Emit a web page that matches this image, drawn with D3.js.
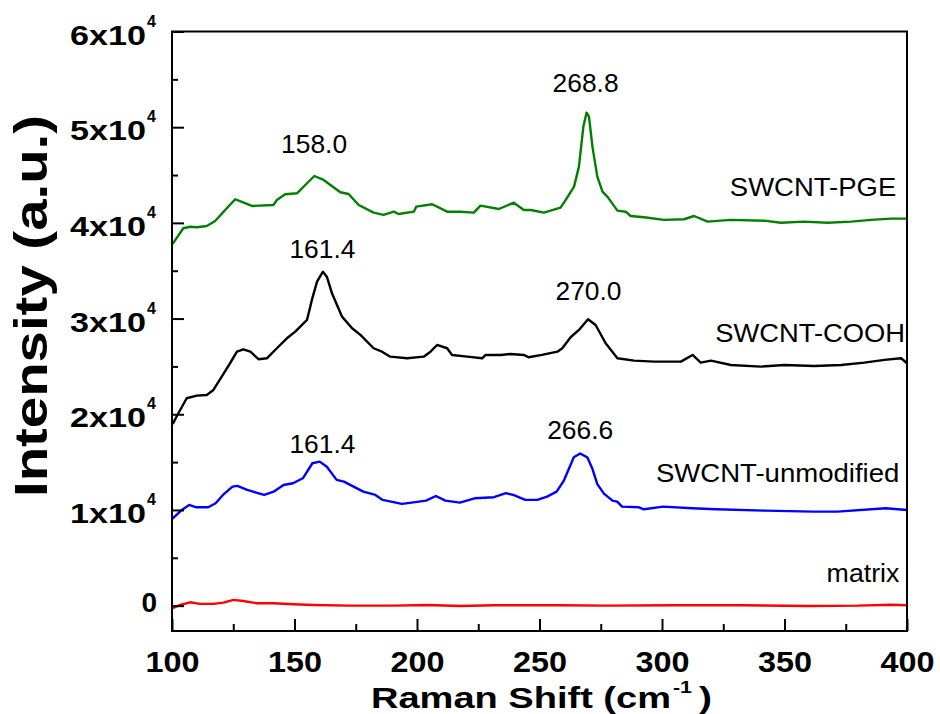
<!DOCTYPE html>
<html>
<head>
<meta charset="utf-8">
<script src="https://cdn.jsdelivr.net/npm/d3@7"></script>
<style>
  body { margin: 0; background: #fff; }
  svg { display: block; font-family: "Liberation Sans", Arial, sans-serif; }
</style>
</head>
<body>
<svg id="chart" width="940" height="714"></svg>
<script>
// Raman spectra (x in cm-1, intensity in a.u.)
const pgeShift = [100.3, 104.6, 107.4, 110.1, 114.2, 117.6, 121.7, 125.8, 128.5, 132.6, 141.4, 142.8, 146.2, 151.0, 154.4, 158.1, 161.9, 168.7, 172.1, 176.2, 182.3, 186.4, 190.5, 192.5, 198.7, 199.7, 206.2, 212.3, 217.7, 223.2, 225.9, 233.4, 239.5, 243.6, 246.4, 251.8, 258.6, 260.7, 264.1, 266.1, 267.9, 269.2, 270.2, 271.6, 273.6, 275.7, 277.7, 281.8, 285.2, 287.2, 292.7, 300.8, 309.0, 313.1, 318.6, 328.1, 341.7, 348.5, 358.1, 367.6, 377.2, 385.3, 393.5, 400]
const pgeIntensity = [37800, 39440, 39600, 39540, 39680, 40200, 41350, 42470, 42190, 41770, 41870, 42390, 42990, 43090, 43960, 44900, 44490, 43200, 43020, 41870, 41070, 40830, 41170, 40930, 41170, 41700, 41950, 41170, 41170, 41070, 41800, 41450, 42110, 41350, 41350, 41070, 41590, 42400, 43790, 45880, 50060, 51520, 51100, 47970, 44830, 43260, 42740, 41280, 41170, 40720, 40590, 40310, 40380, 40720, 40130, 40310, 40230, 40020, 40130, 40020, 40130, 40310, 40440, 40440]

const coohShift = [100.3, 102.6, 106, 110.1, 114.2, 116.9, 120.3, 123.7, 126.5, 129.1, 132, 135.3, 138.7, 142.8, 146.9, 150.3, 155.1, 157.1, 159.2, 161.6, 163.2, 165.3, 169.4, 173.5, 176.9, 182.3, 185.7, 189.1, 196, 202.7, 205.5, 208.2, 212.3, 214.3, 220.5, 226.6, 228, 234.1, 238.2, 243.6, 245.5, 251, 257.3, 259.3, 262.7, 266.1, 269.8, 272.9, 277, 281.8, 288.6, 296.8, 307.7, 312.5, 315.8, 320, 328.1, 340.4, 349.9, 362.2, 373.1, 382.6, 390.8, 397.6, 400]
const coohIntensity = [18990, 20100, 21670, 21950, 22020, 22540, 23930, 25330, 26540, 26790, 26540, 25750, 25850, 26900, 27940, 28630, 29860, 31950, 33860, 34900, 34380, 32640, 30200, 28990, 28290, 26900, 26540, 26020, 25850, 26020, 26540, 27240, 26900, 26200, 26020, 25850, 26200, 26200, 26300, 26200, 25960, 26200, 26540, 26900, 28050, 28810, 29930, 29330, 27420, 25850, 25600, 25500, 25500, 26200, 25400, 25600, 25150, 24980, 25150, 25050, 25150, 25400, 25680, 25850, 25330]

const unmodShift = [100, 104, 107, 109.9, 114.8, 117.8, 120.8, 124.7, 126.7, 130.7, 137.6, 141.5, 145.5, 149.4, 153.4, 157.3, 160.3, 163.2, 167.2, 170.2, 174.1, 178.1, 183, 186, 193.8, 197.8, 203.7, 207.7, 211.6, 217.5, 223.5, 231.4, 236.3, 239.3, 244.2, 249.1, 253.1, 257, 260, 262, 264, 266.6, 269.5, 271.6, 273.6, 276.3, 279.8, 281.7, 283.7, 290.6, 292.6, 300.5, 312.3, 322.2, 341.9, 361.7, 371.6, 391.3, 400]
const unmodIntensity = [9030, 10000, 10520, 10280, 10280, 10700, 11570, 12440, 12510, 12090, 11570, 11910, 12610, 12790, 13310, 14880, 15050, 14520, 13140, 12960, 12440, 11910, 11570, 11050, 10630, 10760, 10970, 11460, 10970, 10760, 11220, 11330, 11750, 11570, 11050, 11050, 11390, 11910, 13100, 14300, 15500, 15900, 15500, 14300, 12700, 11700, 10970, 10870, 10350, 10280, 10070, 10350, 10180, 10070, 9930, 9820, 9820, 10180, 10000]

const matrixShift = [100.3, 103.3, 107.4, 111.4, 116.9, 121, 125.1, 129.1, 134.6, 141.4, 149.6, 157.8, 172.8, 190.5, 204.1, 217.7, 231.4, 245, 257.3, 277.7, 305, 332.2, 359.5, 379.9, 393.5, 400]
const matrixIntensity = [-270, 70, 350, 180, 180, 310, 600, 490, 250, 250, 150, 70, 0, 0, 70, -30, 40, 40, 40, 0, 40, 40, -30, 0, 100, 40]

const xMajorTicks = [100, 150, 200, 250, 300, 350, 400]
const xMinorTicks = [125, 175, 225, 275, 325, 375]
const yMajorTicks = [0, 10000, 20000, 30000, 40000, 50000, 60000]
const yMinorTicks = [5000, 15000, 25000, 35000, 45000, 55000]
const yTickMantissa = ['0', '1', '2', '3', '4', '5', '6']

// peak labels: shift they sit over, and intensity level of the text baseline
const peakLabels = ['268.8', '158.0', '161.4', '270.0', '161.4', '266.6']
const peakLabelShift = [268.8, 158.0, 161.4, 270.0, 161.4, 266.6]
const peakLabelLevel = [53710, 47340, 36300, 31950, 15930, 17390]

// series names, right side: shift where the text starts / ends, baseline level
const seriesNames = ['SWCNT-PGE', 'SWCNT-COOH', 'SWCNT-unmodified', 'matrix']
const seriesNameStart = [327.7, 321.7, 297.5, 367.2]
const seriesNameEnd = [395.6, 399.2, 396.9, 396.9]
const seriesNameLevel = [42810, 27590, 12960, 2510]

const width = 940, height = 714
const marginLeft = 172, marginRight = 907, marginTop = 31.5, marginBottom = 631

const svg = d3.select('#chart')
const x = d3.scaleLinear([100, 400], [marginLeft, marginRight])
const y = d3.scaleLinear([-2650, 60000], [marginBottom, marginTop])

const series = [
    {xs: pgeShift, ys: pgeIntensity, color: '#008000'},
    {xs: coohShift, ys: coohIntensity, color: '#000000'},
    {xs: unmodShift, ys: unmodIntensity, color: '#0000ff'},
    {xs: matrixShift, ys: matrixIntensity, color: '#ff0000'},
]

const line = d3.line().x(d => x(d[0])).y(d => y(d[1]))

svg.append('g')
    .selectAll('path')
    .data(series)
    .join('path')
    .attr('fill', 'none')
    .attr('stroke', d => d.color)
    .attr('stroke-width', 2.4)
    .attr('stroke-linejoin', 'round')
    .attr('d', d => line(d.xs.map((v, i) => [v, d.ys[i]])))

// axes, ticks pointing inward
const xMajor = svg.append('g')
    .attr('transform', `translate(0, ${marginBottom})`)
    .call(d3.axisBottom(x).tickValues(xMajorTicks).tickSize(-12).tickPadding(20).tickFormat(d3.format('d')))
svg.append('g')
    .attr('transform', `translate(0, ${marginBottom})`)
    .call(d3.axisBottom(x).tickValues(xMinorTicks).tickSize(-7).tickFormat(''))
svg.append('g')
    .attr('transform', `translate(${marginLeft}, 0)`)
    .call(d3.axisLeft(y).tickValues(yMajorTicks).tickSize(-12).tickFormat(''))
svg.append('g')
    .attr('transform', `translate(${marginLeft}, 0)`)
    .call(d3.axisLeft(y).tickValues(yMinorTicks).tickSize(-6).tickFormat(''))

svg.selectAll('.domain').remove()
svg.selectAll('.tick line').attr('stroke', '#000').attr('stroke-width', 2)

xMajor.selectAll('.tick text')
    .attr('fill', '#000')
    .attr('font-family', '"Liberation Sans", Arial, sans-serif')
    .attr('font-size', 30)
    .attr('font-weight', 'bold')
    .attr('text-anchor', 'start')
    .attr('x', -27)
    .attr('textLength', 54)
    .attr('lengthAdjust', 'spacingAndGlyphs')

// y tick labels as N x 10^4
const yLabels = svg.append('g').attr('font-weight', 'bold').attr('fill', '#000')
yMajorTicks.forEach((v, i) => {
    if (v === 0) {
        yLabels.append('text')
            .attr('x', 157).attr('y', y(v) + 6)
            .attr('text-anchor', 'end')
            .attr('font-size', 28)
            .text(yTickMantissa[i])
    } else {
        yLabels.append('text')
            .attr('x', 70).attr('y', y(v) + 13)
            .attr('font-size', 28)
            .attr('textLength', 76).attr('lengthAdjust', 'spacingAndGlyphs')
            .text(yTickMantissa[i] + 'x10')
        yLabels.append('text')
            .attr('x', 147).attr('y', y(v) - 5)
            .attr('font-size', 16)
            .text('4')
    }
})

// frame
svg.append('rect')
    .attr('x', marginLeft).attr('y', marginTop)
    .attr('width', marginRight - marginLeft).attr('height', marginBottom - marginTop)
    .attr('fill', 'none').attr('stroke', '#000').attr('stroke-width', 2)

// axis titles
const xTitle = svg.append('g').attr('font-weight', 'bold').attr('fill', '#000')
xTitle.append('text').attr('x', 371).attr('y', 708).attr('font-size', 30)
    .attr('textLength', 300).attr('lengthAdjust', 'spacingAndGlyphs')
    .text('Raman Shift (cm')
xTitle.append('text').attr('x', 673).attr('y', 693).attr('font-size', 17)
    .attr('textLength', 19).attr('lengthAdjust', 'spacingAndGlyphs')
    .text('-1')
xTitle.append('text').attr('x', 699).attr('y', 708).attr('font-size', 30)
    .attr('textLength', 13).attr('lengthAdjust', 'spacingAndGlyphs')
    .text(')')

svg.append('text')
    .attr('transform', 'translate(47, 497) rotate(-90)')
    .attr('font-size', 47).attr('font-weight', 'bold')
    .attr('textLength', 382).attr('lengthAdjust', 'spacingAndGlyphs')
    .text('Intensity (a.u.)')

// annotations
svg.append('g')
    .selectAll('text')
    .data(peakLabels)
    .join('text')
    .attr('x', (d, i) => x(peakLabelShift[i]) - 33)
    .attr('y', (d, i) => y(peakLabelLevel[i]))
    .attr('font-size', 25)
    .attr('textLength', 66).attr('lengthAdjust', 'spacingAndGlyphs')
    .text(d => d)

svg.append('g')
    .selectAll('text')
    .data(seriesNames)
    .join('text')
    .attr('x', (d, i) => x(seriesNameStart[i]))
    .attr('y', (d, i) => y(seriesNameLevel[i]))
    .attr('font-size', 25)
    .attr('textLength', (d, i) => x(seriesNameEnd[i]) - x(seriesNameStart[i]))
    .attr('lengthAdjust', 'spacingAndGlyphs')
    .text(d => d)
</script>
</body>
</html>
